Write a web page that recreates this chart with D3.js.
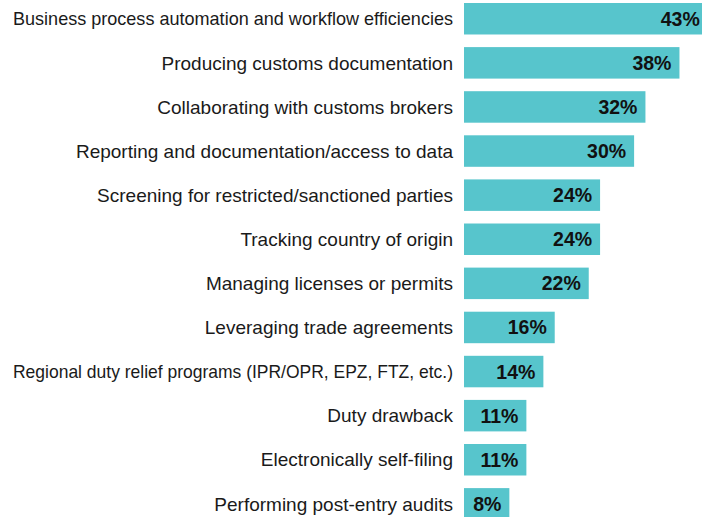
<!DOCTYPE html>
<html>
<head>
<meta charset="utf-8">
<script src="https://cdn.jsdelivr.net/npm/d3@7/dist/d3.min.js"></script>
<style>
  body { margin: 0; background: #fff; }
  svg { display: block; font-family: "Liberation Sans", Arial, sans-serif; }
</style>
</head>
<body>
<div class="chart"></div>
<script>
// categories, top to bottom
const categories = [
    "Business process automation and workflow efficiencies",
    "Producing customs documentation",
    "Collaborating with customs brokers",
    "Reporting and documentation/access to data",
    "Screening for restricted/sanctioned parties",
    "Tracking country of origin",
    "Managing licenses or permits",
    "Leveraging trade agreements",
    "Regional duty relief programs (IPR/OPR, EPZ, FTZ, etc.)",
    "Duty drawback",
    "Electronically self-filing",
    "Performing post-entry audits"
];
const values = [43, 38, 32, 30, 24, 24, 22, 16, 14, 11, 11, 8];

const width = 702, height = 517;
const barLeft = 464;
const labelEnd = 453;
const labelMinX = 13; // long labels get squeezed to start here

const svg = d3.select(".chart").append("svg")
    .attr("width", width)
    .attr("height", height);

// x: percent -> pixels (the 43% bar runs off the right edge, like the source)
const x = d3.scaleLinear()
    .domain([0, 43])
    .range([barLeft, barLeft + 5.67 * 43]);

const y = d3.scaleBand()
    .domain(categories)
    .range([-3.3, -3.3 + 12 * 44.1])
    .paddingInner(0.286)
    .paddingOuter(0.143);

const rows = svg.selectAll("g.row")
    .data(categories.map((c, i) => ({ cat: c, val: values[i] })))
    .enter()
    .append("g")
    .attr("class", "row");

rows.append("rect")
    .attr("x", x(0))
    .attr("y", d => y(d.cat))
    .attr("width", d => x(d.val) - x(0))
    .attr("height", y.bandwidth())
    .attr("fill", "#57c5cc");

// category labels, right aligned left of the bars
rows.append("text")
    .attr("x", labelEnd)
    .attr("y", d => y(d.cat) + y.bandwidth() / 2)
    .attr("dy", "0.35em")
    .attr("text-anchor", "end")
    .attr("font-size", "19px")
    .attr("fill", "#1a1a1a")
    .text(d => d.cat)
    .each(function() {
        const maxW = labelEnd - labelMinX;
        if (this.getComputedTextLength() > maxW) {
            d3.select(this)
                .attr("textLength", maxW)
                .attr("lengthAdjust", "spacingAndGlyphs");
        }
    });

// value labels inside the bar end
rows.append("text")
    .attr("x", d => x(d.val) - 8)
    .attr("y", d => y(d.cat) + y.bandwidth() / 2)
    .attr("dy", "0.36em")
    .attr("text-anchor", "end")
    .attr("font-size", "19.5px")
    .attr("font-weight", "bold")
    .attr("fill", "#111")
    .text(d => d.val + "%");
</script>
</body>
</html>
